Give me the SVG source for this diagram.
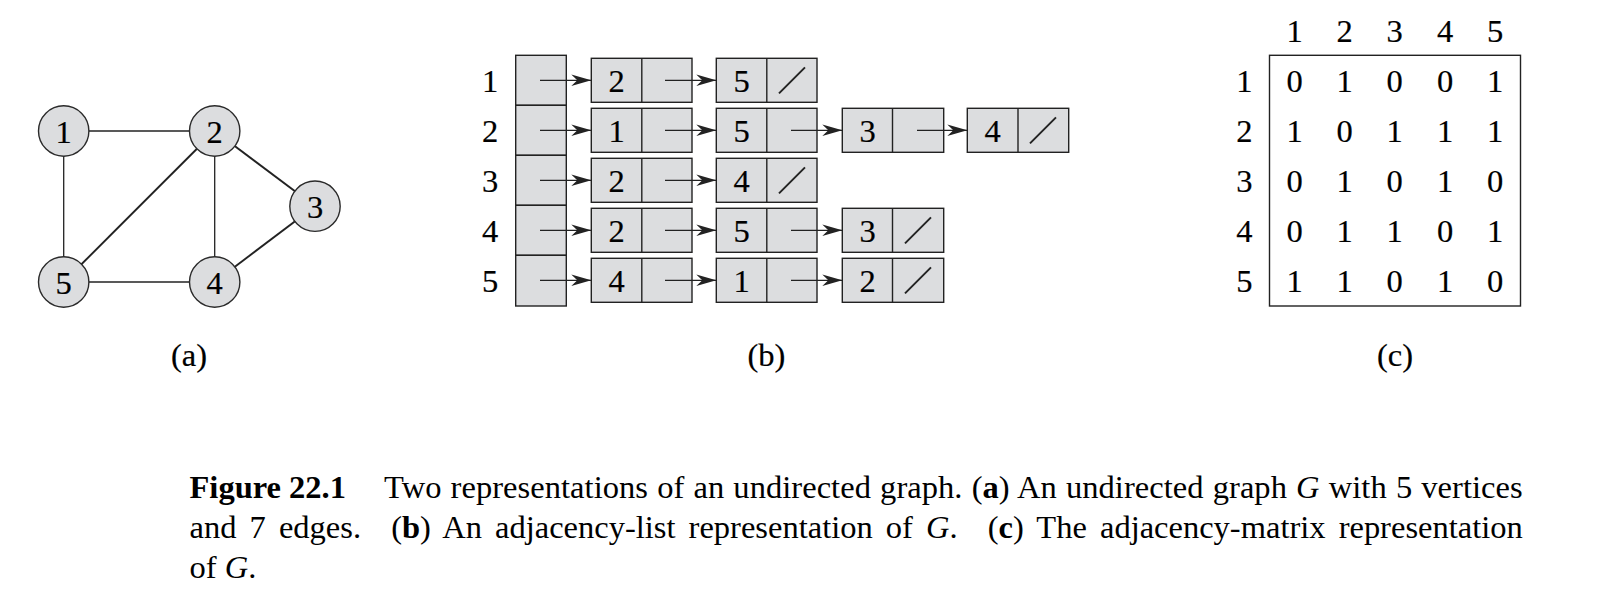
<svg xmlns="http://www.w3.org/2000/svg" width="1620" height="616" viewBox="0 0 1620 616">
<style>
.t{font-family:"Liberation Serif","Times New Roman",serif;font-size:32.5px;fill:#000;stroke:#000;stroke-width:0.2;text-anchor:middle}
.cap{font-family:"Liberation Serif","Times New Roman",serif;font-size:32.5px;fill:#000}
.nd{fill:#dcdddf;stroke:#2a2a2a;stroke-width:1.4}
.e{stroke:#222;stroke-width:1.3;fill:none}
.ed{stroke:#222;stroke-width:1.9;fill:none}
.cell{fill:#dcdddf;stroke:#222;stroke-width:1.4}
.dv{stroke:#222;stroke-width:1.4}
.ar{stroke:#222;stroke-width:1.3;fill:none;marker-end:url(#ah)}
.nil{stroke:#222;stroke-width:1.9}
.mx{fill:none;stroke:#222;stroke-width:1.4}
</style>
<defs>
<marker id="ah" markerUnits="userSpaceOnUse" viewBox="-21 -7 22 14" markerWidth="22" markerHeight="14" refX="0" refY="0" orient="auto">
<path d="M0,0 L-20,-5.8 L-14,0 L-20,5.8 Z" fill="#222"/>
</marker>
</defs>
<rect width="1620" height="616" fill="#fff"/>

<!-- (a) graph -->
<g id="edges">
<line class="e" x1="63.7" y1="131" x2="214.7" y2="131"/>
<line class="e" x1="63.7" y1="131" x2="63.7" y2="282"/>
<line class="e" x1="214.7" y1="131" x2="214.7" y2="282"/>
<line class="e" x1="63.7" y1="282" x2="214.7" y2="282"/>
<line class="ed" x1="214.7" y1="131" x2="63.7" y2="282"/>
<line class="ed" x1="214.7" y1="131" x2="315" y2="206.2"/>
<line class="ed" x1="315" y1="206.2" x2="214.7" y2="282"/>
</g>
<g id="v1"><circle class="nd" cx="63.7" cy="131" r="25.2"/><text class="t" x="63.7" y="142.6">1</text></g>
<g id="v2"><circle class="nd" cx="214.7" cy="131" r="25.2"/><text class="t" x="214.7" y="142.6">2</text></g>
<g id="v3"><circle class="nd" cx="315" cy="206.2" r="25.2"/><text class="t" x="315" y="217.8">3</text></g>
<g id="v4"><circle class="nd" cx="214.7" cy="282" r="25.2"/><text class="t" x="214.7" y="293.6">4</text></g>
<g id="v5"><circle class="nd" cx="63.7" cy="282" r="25.2"/><text class="t" x="63.7" y="293.6">5</text></g>
<text class="t" x="189" y="366">(a)</text>

<!-- (b) adjacency list -->
<g id="adj-labels">
<text class="t" x="490" y="91.8">1</text>
<text class="t" x="490" y="141.8">2</text>
<text class="t" x="490" y="191.8">3</text>
<text class="t" x="490" y="241.8">4</text>
<text class="t" x="490" y="291.8">5</text>
</g>
<g id="adj-header">
<rect class="cell" x="515.7" y="55.3" width="50.6" height="50"/>
<rect class="cell" x="515.7" y="105.3" width="50.6" height="50"/>
<rect class="cell" x="515.7" y="155.3" width="50.6" height="50"/>
<rect class="cell" x="515.7" y="205.3" width="50.6" height="50"/>
<rect class="cell" x="515.7" y="255.3" width="50.6" height="50.7"/>
</g>
<g id="list-cells">
<g id="r1c1"><rect class="cell" x="591.3" y="58.3" width="100.7" height="44"/><line class="dv" x1="641.8" y1="58.3" x2="641.8" y2="102.3"/><text class="t" x="616.5" y="91.8">2</text></g>
<g id="r1c2"><rect class="cell" x="716.3" y="58.3" width="100.7" height="44"/><line class="dv" x1="766.8" y1="58.3" x2="766.8" y2="102.3"/><text class="t" x="741.5" y="91.8">5</text><line class="nil" x1="779" y1="93.3" x2="805" y2="67.3"/></g>
<g id="r2c1"><rect class="cell" x="591.3" y="108.3" width="100.7" height="44"/><line class="dv" x1="641.8" y1="108.3" x2="641.8" y2="152.3"/><text class="t" x="616.5" y="141.8">1</text></g>
<g id="r2c2"><rect class="cell" x="716.3" y="108.3" width="100.7" height="44"/><line class="dv" x1="766.8" y1="108.3" x2="766.8" y2="152.3"/><text class="t" x="741.5" y="141.8">5</text></g>
<g id="r2c3"><rect class="cell" x="842.3" y="108.3" width="101.4" height="44"/><line class="dv" x1="892.5" y1="108.3" x2="892.5" y2="152.3"/><text class="t" x="867.5" y="141.8">3</text></g>
<g id="r2c4"><rect class="cell" x="967.3" y="108.3" width="101.4" height="44"/><line class="dv" x1="1018" y1="108.3" x2="1018" y2="152.3"/><text class="t" x="992.5" y="141.8">4</text><line class="nil" x1="1030" y1="143.3" x2="1056" y2="117.3"/></g>
<g id="r3c1"><rect class="cell" x="591.3" y="158.3" width="100.7" height="44"/><line class="dv" x1="641.8" y1="158.3" x2="641.8" y2="202.3"/><text class="t" x="616.5" y="191.8">2</text></g>
<g id="r3c2"><rect class="cell" x="716.3" y="158.3" width="100.7" height="44"/><line class="dv" x1="766.8" y1="158.3" x2="766.8" y2="202.3"/><text class="t" x="741.5" y="191.8">4</text><line class="nil" x1="779" y1="193.3" x2="805" y2="167.3"/></g>
<g id="r4c1"><rect class="cell" x="591.3" y="208.3" width="100.7" height="44"/><line class="dv" x1="641.8" y1="208.3" x2="641.8" y2="252.3"/><text class="t" x="616.5" y="241.8">2</text></g>
<g id="r4c2"><rect class="cell" x="716.3" y="208.3" width="100.7" height="44"/><line class="dv" x1="766.8" y1="208.3" x2="766.8" y2="252.3"/><text class="t" x="741.5" y="241.8">5</text></g>
<g id="r4c3"><rect class="cell" x="842.3" y="208.3" width="101.4" height="44"/><line class="dv" x1="892.5" y1="208.3" x2="892.5" y2="252.3"/><text class="t" x="867.5" y="241.8">3</text><line class="nil" x1="905" y1="243.3" x2="931" y2="217.3"/></g>
<g id="r5c1"><rect class="cell" x="591.3" y="258.3" width="100.7" height="44"/><line class="dv" x1="641.8" y1="258.3" x2="641.8" y2="302.3"/><text class="t" x="616.5" y="291.8">4</text></g>
<g id="r5c2"><rect class="cell" x="716.3" y="258.3" width="100.7" height="44"/><line class="dv" x1="766.8" y1="258.3" x2="766.8" y2="302.3"/><text class="t" x="741.5" y="291.8">1</text></g>
<g id="r5c3"><rect class="cell" x="842.3" y="258.3" width="101.4" height="44"/><line class="dv" x1="892.5" y1="258.3" x2="892.5" y2="302.3"/><text class="t" x="867.5" y="291.8">2</text><line class="nil" x1="905" y1="293.3" x2="931" y2="267.3"/></g>
</g>
<g id="list-arrows">
<line class="ar" x1="540" y1="80.3" x2="591.3" y2="80.3"/>
<line class="ar" x1="665" y1="80.3" x2="716.3" y2="80.3"/>
<line class="ar" x1="540" y1="130.3" x2="591.3" y2="130.3"/>
<line class="ar" x1="665" y1="130.3" x2="716.3" y2="130.3"/>
<line class="ar" x1="791" y1="130.3" x2="842.3" y2="130.3"/>
<line class="ar" x1="917" y1="130.3" x2="967.3" y2="130.3"/>
<line class="ar" x1="540" y1="180.3" x2="591.3" y2="180.3"/>
<line class="ar" x1="665" y1="180.3" x2="716.3" y2="180.3"/>
<line class="ar" x1="540" y1="230.3" x2="591.3" y2="230.3"/>
<line class="ar" x1="665" y1="230.3" x2="716.3" y2="230.3"/>
<line class="ar" x1="791" y1="230.3" x2="842.3" y2="230.3"/>
<line class="ar" x1="540" y1="280.3" x2="591.3" y2="280.3"/>
<line class="ar" x1="665" y1="280.3" x2="716.3" y2="280.3"/>
<line class="ar" x1="791" y1="280.3" x2="842.3" y2="280.3"/>
</g>
<text class="t" x="766.5" y="366">(b)</text>

<!-- (c) adjacency matrix -->
<g id="matrix">
<rect class="mx" x="1269.5" y="55.3" width="251" height="250.7"/>
<g id="col-labels">
<text class="t" x="1294.5" y="41.7">1</text><text class="t" x="1344.5" y="41.7">2</text><text class="t" x="1394.5" y="41.7">3</text><text class="t" x="1445" y="41.7">4</text><text class="t" x="1495" y="41.7">5</text>
</g>
<g id="row-labels">
<text class="t" x="1244.3" y="91.7">1</text><text class="t" x="1244.3" y="141.7">2</text><text class="t" x="1244.3" y="191.7">3</text><text class="t" x="1244.3" y="241.7">4</text><text class="t" x="1244.3" y="291.7">5</text>
</g>
<g id="cells">
<text class="t" x="1294.5" y="91.7">0</text><text class="t" x="1344.5" y="91.7">1</text><text class="t" x="1394.5" y="91.7">0</text><text class="t" x="1445" y="91.7">0</text><text class="t" x="1495" y="91.7">1</text>
<text class="t" x="1294.5" y="141.7">1</text><text class="t" x="1344.5" y="141.7">0</text><text class="t" x="1394.5" y="141.7">1</text><text class="t" x="1445" y="141.7">1</text><text class="t" x="1495" y="141.7">1</text>
<text class="t" x="1294.5" y="191.7">0</text><text class="t" x="1344.5" y="191.7">1</text><text class="t" x="1394.5" y="191.7">0</text><text class="t" x="1445" y="191.7">1</text><text class="t" x="1495" y="191.7">0</text>
<text class="t" x="1294.5" y="241.7">0</text><text class="t" x="1344.5" y="241.7">1</text><text class="t" x="1394.5" y="241.7">1</text><text class="t" x="1445" y="241.7">0</text><text class="t" x="1495" y="241.7">1</text>
<text class="t" x="1294.5" y="291.7">1</text><text class="t" x="1344.5" y="291.7">1</text><text class="t" x="1394.5" y="291.7">0</text><text class="t" x="1445" y="291.7">1</text><text class="t" x="1495" y="291.7">0</text>
</g>
</g>
<text class="t" x="1395" y="366">(c)</text>

<!-- caption -->
<g id="caption">
<text class="cap" x="189.5" y="497.5" font-weight="bold">Figure 22.1</text>
<text class="cap" x="384" y="497.5" word-spacing="1" textLength="1138.7" lengthAdjust="spacing">Two representations of an undirected graph. (<tspan font-weight="bold">a</tspan>) An undirected graph <tspan font-style="italic">G</tspan> with 5 vertices</text>
<text class="cap" x="189.5" y="537.5" word-spacing="5" textLength="1333.2" lengthAdjust="spacing">and 7 edges. <tspan dx="17">(</tspan><tspan font-weight="bold">b</tspan>) An adjacency-list representation of <tspan font-style="italic">G</tspan>. <tspan dx="17">(</tspan><tspan font-weight="bold">c</tspan>) The adjacency-matrix representation</text>
<text class="cap" x="189.5" y="578">of <tspan font-style="italic">G</tspan>.</text>
</g>
</svg>
